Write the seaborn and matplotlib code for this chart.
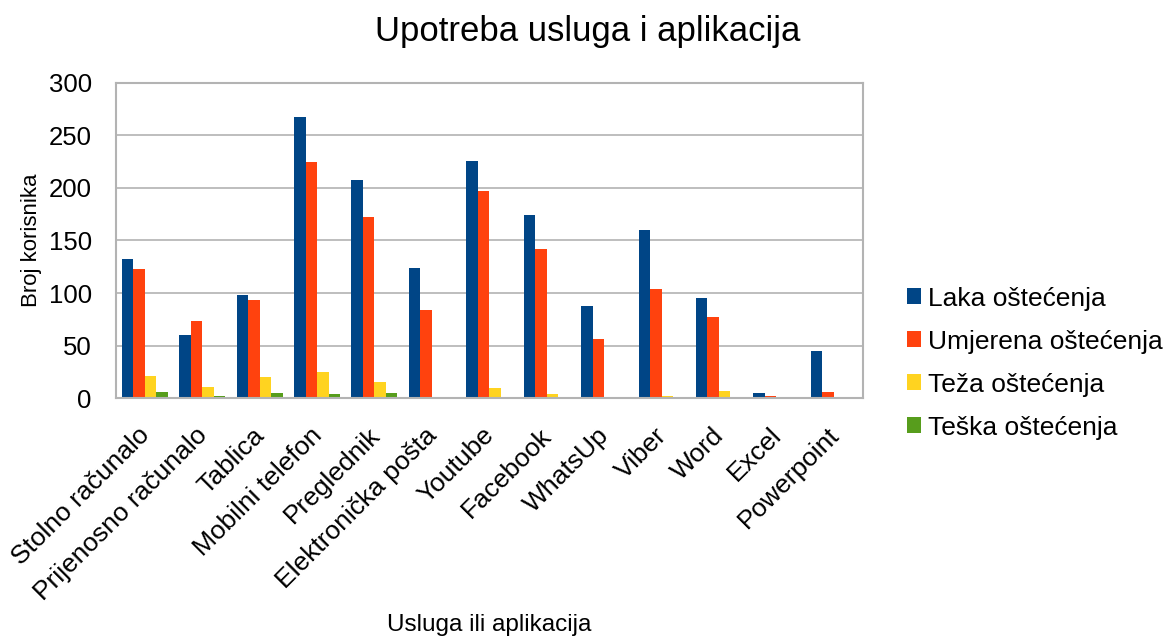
import matplotlib
matplotlib.use('Agg')
import matplotlib.pyplot as plt
from matplotlib.patches import Patch
from matplotlib.ticker import FixedLocator
from matplotlib.transforms import ScaledTranslation
import seaborn as sns
import pandas as pd
import numpy as np

categories = ['Stolno računalo', 'Prijenosno računalo', 'Tablica', 'Mobilni telefon',
              'Preglednik', 'Elektronička pošta', 'Youtube', 'Facebook', 'WhatsUp',
              'Viber', 'Word', 'Excel', 'Powerpoint']
series = ['Laka oštećenja', 'Umjerena oštećenja', 'Teža oštećenja', 'Teška oštećenja']
laka = [132, 60, 98, 267, 208, 124, 226, 174, 88, 160, 95, 5, 45]
umjerena = [123, 73, 93, 225, 172, 84, 197, 142, 56, 104, 77, 2, 6]
teza = [21, 11, 20, 25, 15, 0, 10, 4, 0, 2, 7, 0, 0]
teska = [6, 2, 5, 4, 5, 0, 0, 0, 0, 0, 0, 0, 0]
colors = ['#004586', '#ff420e', '#ffd320', '#579d1c']

sns.set_style('white')
plt.rcParams['font.family'] = ['Liberation Sans', 'DejaVu Sans']
plt.rcParams['text.color'] = 'black'
plt.rcParams['xtick.color'] = 'black'
plt.rcParams['ytick.color'] = 'black'
plt.rcParams['axes.labelcolor'] = 'black'

# Long format for seaborn
df = pd.DataFrame({
    'Usluga': categories * 4,
    'Serija': np.repeat(series, len(categories)),
    'Broj': laka + umjerena + teza + teska,
})

fig = plt.figure(figsize=(11.64, 6.37), dpi=100)
ax = fig.add_axes([0.0997, 0.375, 0.6413, 0.495])

sns.barplot(data=df, x='Usluga', y='Broj', hue='Serija', palette=colors,
            width=0.8, linewidth=0, saturation=1, legend=False, ax=ax)

grid_c = '#b3b3b3'
ax.set_ylim(0, 300)
ax.set_xlim(-0.5, len(categories) - 0.5)
ax.set_yticks(range(0, 301, 50))
ax.yaxis.grid(True, color=grid_c, linewidth=1.2)
ax.set_axisbelow(True)
for s in ax.spines.values():
    s.set_color(grid_c)
    s.set_linewidth(1.5)

ax.xaxis.set_minor_locator(FixedLocator(np.arange(-0.5, len(categories), 1)))
ax.tick_params(axis='x', which='major', length=0, pad=8)
ax.tick_params(axis='x', which='minor', length=7, color=grid_c, width=1.5)
ax.tick_params(axis='y', length=6, color=grid_c, width=1.5, labelsize=18.5, pad=11.5)
shift = ScaledTranslation(-7 / 100, -14 / 100, fig.dpi_scale_trans)
for lbl in ax.get_xticklabels():
    lbl.set_rotation(45)
    lbl.set_ha('right')
    lbl.set_rotation_mode('anchor')
    lbl.set_fontsize(19)
    lbl.set_transform(lbl.get_transform() + shift)

ax.set_xlabel('')
ax.set_ylabel('Broj korisnika', fontsize=16, labelpad=5)
fig.text(0.42, 0.019, 'Usluga ili aplikacija', fontsize=17.5, ha='center', va='center')
fig.text(0.505, 0.95, 'Upotreba usluga i aplikacija', fontsize=25, ha='center', va='center')

handles = [Patch(facecolor=c, edgecolor='none') for c in colors]
fig.legend(handles, series, loc='center left', bbox_to_anchor=(0.759, 0.43),
           frameon=False, fontsize=19, handlelength=0.53, handleheight=0.53,
           handletextpad=0.27, labelspacing=0.72)

fig.savefig('out.png', dpi=100)
